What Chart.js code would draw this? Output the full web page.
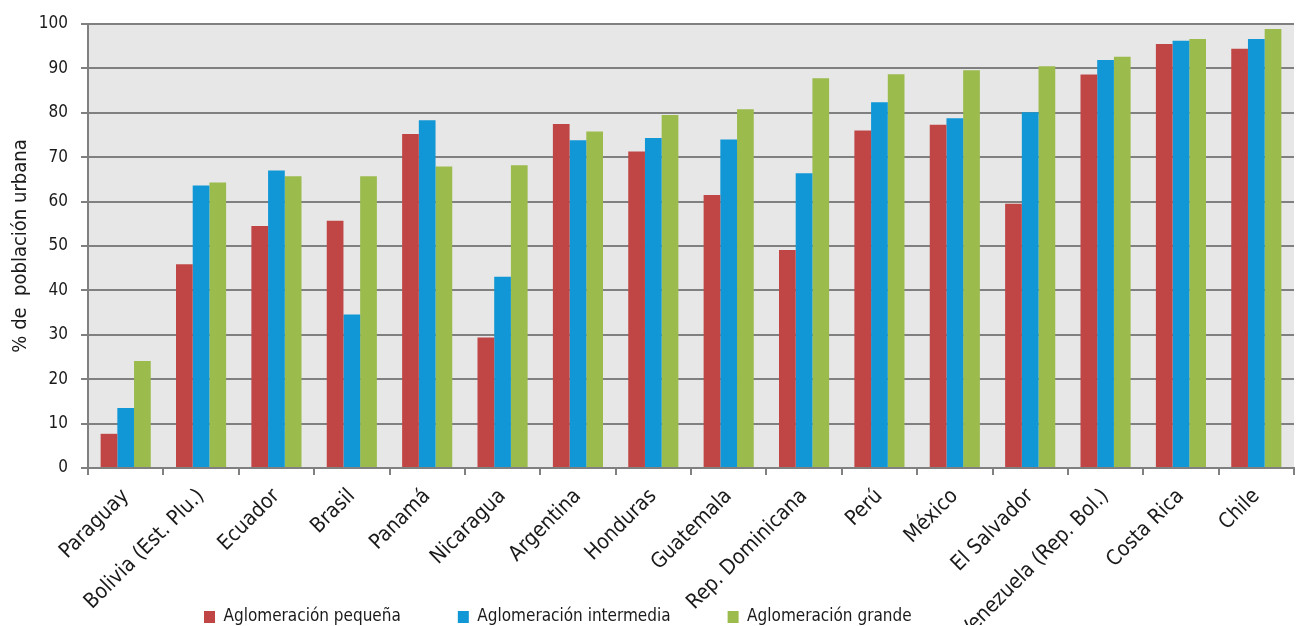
<!DOCTYPE html>
<html>
<head>
<meta charset="utf-8">
<script src="https://cdn.jsdelivr.net/npm/chart.js@4.4.0/dist/chart.umd.min.js"></script>
<style>
  html, body { margin: 0; padding: 0; background: #fff; }
  #wrap { width: 1296px; height: 626px; }
</style>
</head>
<body>
<div id="wrap"><canvas id="chart" width="1296" height="626"></canvas></div>
<script>
// paises ordenados por aglomeracion grande
const paises = ['Paraguay', 'Bolivia (Est. Plu.)', 'Ecuador', 'Brasil', 'Panamá', 'Nicaragua', 'Argentina',
    'Honduras', 'Guatemala', 'Rep. Dominicana', 'Perú', 'México', 'El Salvador', 'Venezuela (Rep. Bol.)',
    'Costa Rica', 'Chile'];
const pequena    = [7.7, 45.9, 54.5, 55.7, 75.2, 29.4, 77.5, 71.3, 61.5, 49.1, 76.0, 77.3, 59.5, 88.6, 95.5, 94.4];
const intermedia = [13.5, 63.6, 67.0, 34.6, 78.3, 43.1, 73.8, 74.3, 74.0, 66.4, 82.4, 78.8, 80.1, 91.9, 96.2, 96.6];
const grande     = [24.1, 64.3, 65.7, 65.7, 67.9, 68.2, 75.8, 79.5, 80.8, 87.8, 88.7, 89.6, 90.5, 92.6, 96.6, 98.9];
const yMin = 0, yMax = 100, yStep = 10;

const FONT = "'Liberation Sans Narrow', 'DejaVu Sans Condensed', 'Noto Sans', sans-serif";
Chart.defaults.font.family = FONT;
Chart.defaults.font.size = 17;
Chart.defaults.color = '#1a1a1a';

// fondo gris del area de datos
const plotBg = {
    id: 'plotBg',
    beforeDraw(chart) {
        const {ctx, chartArea: a} = chart;
        ctx.save();
        ctx.fillStyle = '#e6e7e6';
        ctx.fillRect(a.left, a.top, a.right - a.left, a.bottom - a.top);
        ctx.restore();
    }
};

// leyenda abajo a la izquierda, como en el original
const legendPos = {
    id: 'legendPos',
    afterLayout(chart) {
        const lg = chart.legend;
        const pad = lg.options.labels.padding;
        lg.left = 204 - pad;
        lg.top = 608.5 - pad;
    }
};

new Chart(document.getElementById('chart'), {
    type: 'bar',
    data: {
        labels: paises,
        datasets: [
            {label: 'Aglomeración pequeña', data: pequena, backgroundColor: '#c04646'},
            {label: 'Aglomeración intermedia', data: intermedia, backgroundColor: '#1197d6'},
            {label: 'Aglomeración grande', data: grande, backgroundColor: '#9bbb4c'}
        ]
    },
    options: {
        responsive: false,
        animation: false,
        layout: {padding: {top: 24, right: 2, left: 0, bottom: 0}},
        datasets: {bar: {barPercentage: 1, categoryPercentage: 0.665}},
        plugins: {
            tooltip: {enabled: false},
            legend: {
                position: 'bottom',
                align: 'start',
                maxHeight: 1,
                labels: {boxWidth: 11, boxHeight: 12, padding: 57, font: {size: 17}, color: '#1a1a1a'}
            }
        },
        scales: {
            x: {
                grid: {drawOnChartArea: false, offset: true, tickLength: 7, color: '#808080', lineWidth: 2},
                border: {color: '#808080', width: 2},
                ticks: {minRotation: 45, maxRotation: 45, autoSkip: false, padding: 9, font: {size: 21}},
                afterFit(scale) { scale.height = 157; }
            },
            y: {
                min: yMin, max: yMax,
                grid: {color: '#808080', lineWidth: 2, tickLength: 7},
                border: {color: '#808080', width: 2},
                ticks: {stepSize: yStep, padding: 13, font: {size: 17}},
                title: {display: true, text: '% de  población urbana', font: {size: 20}, padding: {top: 9, bottom: 0}},
                afterFit(scale) { scale.width = 88; }
            }
        }
    },
    plugins: [plotBg, legendPos]
});
</script>
</body>
</html>
